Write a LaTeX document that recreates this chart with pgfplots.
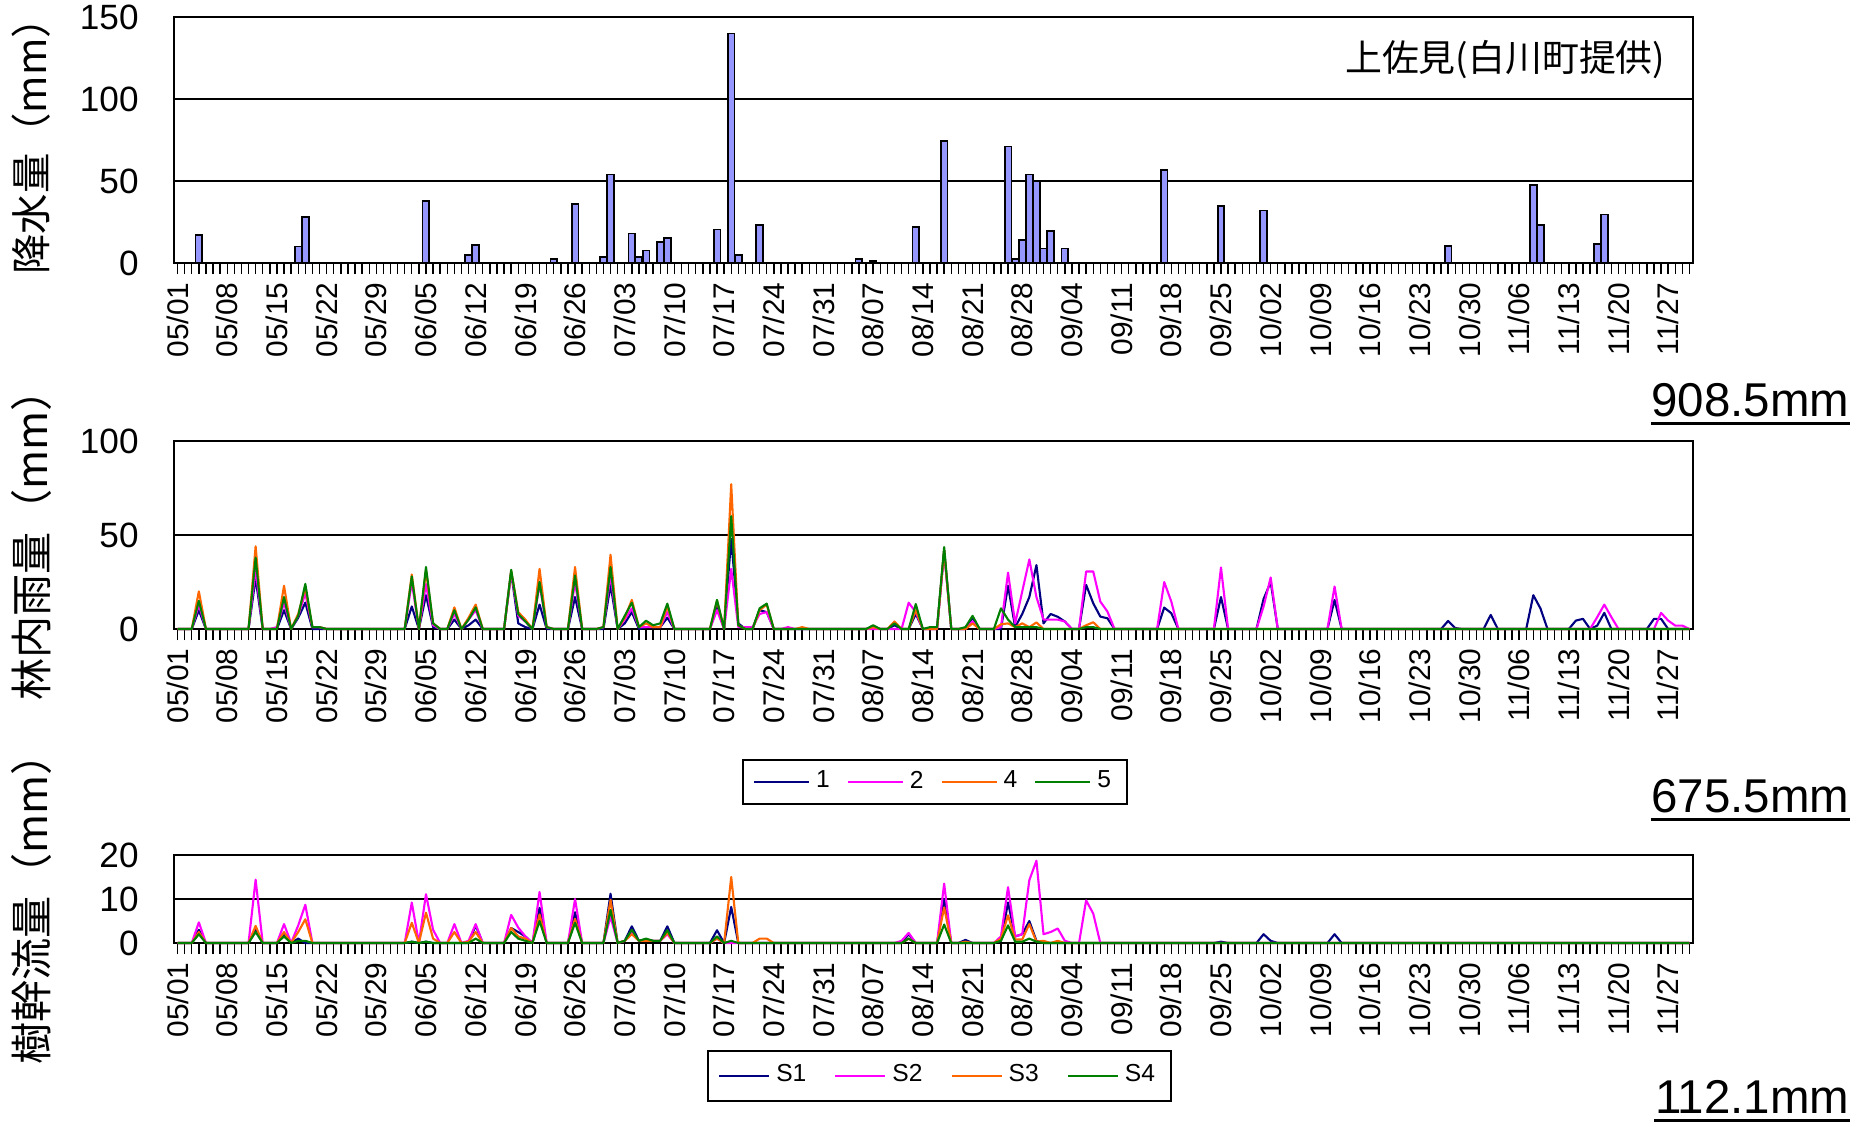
\documentclass[border=0pt]{standalone}
\usepackage{fontspec}
\setmainfont{Liberation Sans}
\newfontfamily\jp{Noto Sans CJK JP}
\usepackage{pgfplots}
\pgfplotsset{compat=1.18}
\usepackage{pgfplotstable}

\definecolor{barblue}{RGB}{150,150,255}
\definecolor{c1}{RGB}{0,0,128}
\definecolor{c2}{RGB}{255,0,255}
\definecolor{c3}{RGB}{255,102,0}
\definecolor{c4}{RGB}{0,128,0}

\pgfplotstableread{
d v
3 17
17 10
18 28
35 38
41 5
42 11
53 2.5
56 36
60 3.7
61 54
64 18
65 3.7
66 7.6
68 13
69 15.4
76 20.5
78 140
79 5
82 23
96 2.5
98 1.4
104 21.8
108 74.5
117 71
118 2.5
119 14.2
120 54
121 50
122 8.8
123 19.3
125 8.8
139 56.6
147 34.6
153 32
179 10.3
191 47.5
192 23
200 11.5
201 29.6
}\rain

\pgfplotstableread{
d s1 s2 s4 s5
0 0 0 0 0
2 0 0 0 0
3 10 13 20 15
4 0 0 0 0
10 0 0 0 0
11 27 32 44 38
12 0 0 0 0
13 0 0 0 0
14 0 1 0 0
15 10 14 23 17
16 0 0 0 0
17 6 7 8 7
18 14 19 22 24
19 0 1 1 1
20 0 1 1 1
21 0 0 0 0
32 0 0 0 0
33 12 25 29 28
34 0 0 0 0
35 18 24 31 33
36 1 2 3 3
37 0 0 0 0
38 0 0 0 0
39 5 8 11.5 10
40 0 0 0 0
41 2 5 6 5
42 5 10 13 11.5
43 0 0 0 0
46 0 0 0 0
47 30 30 31 31.5
48 3 7 9 8
49 1 4 5 4
50 0 0 0 0
51 13 24 32 25
52 0 1 1 1
53 0 0 0 0
55 0 0 0 0
56 17 25 33 28.5
57 0 0 0 0
59 0 0 0 0
60 0 1 1 1
61 23.5 29 39.5 33
62 0 0 0 0
63 3 5 6 7
64 9 11 15.5 14
65 0 1 1 1
66 1 1 3 4.4
67 1 1 1 2
68 1 1 1 3
69 6 9 12 13.5
70 0 0 0 0
75 0 0 0 0
76 12 10 15 15.5
77 0 0 0 0
78 48 32 77 60
79 3 1 2 2
80 0 1 0 0
81 0 1 0 0
82 10 8 10 11
83 9 9 13 13.5
84 0 0 0 0
85 0 0 0 0
86 0 1 0 0
87 0 0 0 0
88 0 0 1 0
89 0 0 0 0
97 0 0 0 0
98 1 0 1 2
99 0 0 0 0
100 0 0 0 0
101 2 0 4 3
102 0 0 0 0
103 0 14 0 0
104 8 9 10 13.3
105 0 0 0 0
106 0 0 0 1
107 0 0 0 1
108 42 41 42 43.6
109 0 0 0 0
110 0 0 0 0
111 0 0 0 1
112 6 4 3 7
113 0 0 0 0
115 0 0 0 0
116 0 1 2.5 11
117 23 30 3 5
118 1 3 1 1
119 8 20 3 1
120 17 37 1 1
121 34 17 3.5 1
122 3 5 0 0
123 8 5 0 0
124 6.5 5 0 0
125 4 4 0 0
126 0 0 0 0
127 0 0 0 0
128 23.5 30.6 2 1
129 13.7 30.6 3.6 1
130 6.6 14.6 0 0
131 5.7 9.3 0 0
132 0 0 0 0
138 0 0 0 0
139 11.4 25 0 0
140 8.4 14.6 0 0
141 0 0 0 0
146 0 0 0 0
147 17 32.7 0 0
148 0 0 0 0
152 0 0 0 0
153 16 12 0 0
154 25 27.4 0 0
155 0 0 0 0
162 0 0 0 0
163 15.5 22.6 0 0
164 0 0 0 0
178 0 0 0 0
179 4.3 0 0 0
180 0.5 0 0 0
181 0 0 0 0
184 0 0 0 0
185 7.5 0 0 0
186 0 0 0 0
190 0 0 0 0
191 18 0 0 0
192 11 0 0 0
193 0 0 0 0
196 0 0 0 0
197 4.5 0 0 0
198 5.4 0 0 0
199 0 0 0 0
200 1.8 6.3 0 0
201 8.6 13 0 0
202 0 6.3 0 0
203 0 0 0 0
207 0 0 0 0
208 5.4 0 0 0
209 5.4 8.6 0 0
210 0 4.5 0 0
211 0 1.8 0 0
212 0 1.8 0 0
213 0 0 0 0
}\thru

\pgfplotstableread{
d s1 s2 s3 s4
0 0 0 0 0
2 0 0 0 0
3 3 4.7 2.5 2
4 0 0 0 0
10 0 0 0 0
11 3 14.4 3.9 2.5
12 0 0 0 0
14 0 0 0 0
15 2 4.3 2.5 1.5
16 0 0 0 0
17 1 4 2.5 0.5
18 0 8.7 5.4 0.5
19 0 0 0 0
32 0 0 0 0
33 0.3 9.2 4.6 0.3
34 0 0 0 0
35 0.3 11.1 6.9 0.3
36 0 3 1 0
37 0 0 0 0
38 0 0 0 0
39 0 4.3 2.5 0
40 0 0 0 0
41 0 0.5 0.3 0
42 4 4.3 2.5 1
43 0 0 0 0
46 0 0 0 0
47 3.4 6.4 3.4 2.5
48 2.5 3.5 1.5 1
49 1.5 1.5 1 0.5
50 0 0 0 0
51 8 11.6 6.5 5
52 0 0 0 0
55 0 0 0 0
56 7 10 5.5 4.6
57 0 0 0 0
60 0 0 0 0
61 11.2 6 9.8 7.5
62 0 0 0 0
63 0.5 0.5 0.5 0.5
64 3.8 2.5 2 3
65 0.5 0.5 0.5 0.5
66 0.8 0.5 0.5 1
67 0.5 0.5 0.5 0.5
68 0.5 0.5 0.5 0.5
69 3.8 2 2.3 2.9
70 0 0 0 0
75 0 0 0 0
76 2.9 1 1 1.5
77 0 0 0 0
78 8.2 0 15 0.5
79 0 0 0 0
81 0 0 0 0
82 0 0 1 0
83 0 0 1 0
84 0 0 0 0
101 0 0 0 0
102 0 0.5 0 0
103 2 2.3 1 1
104 0 0 0 0
107 0 0 0 0
108 10 13.5 8.1 4.2
109 0 0 0 0
110 0 0 0 0
111 0.7 0 0.3 0
112 0 0 0 0
115 0 0 0 0
116 0.5 1.5 1 0.5
117 9.2 12.7 6.3 4
118 1.5 1.5 0.8 0.3
119 2 2 0.8 0.3
120 5 14.3 4.3 1
121 0.5 18.7 0.3 0.3
122 0 2 0.5 0
123 0 2.5 0 0
124 0 3.3 0.5 0
125 0 0.5 0 0
126 0 0 0 0
127 0 0 0 0
128 0 9.7 0 0
129 0 6.7 0 0
130 0 0 0 0
146 0 0 0 0
147 0.3 0 0 0
148 0 0 0 0
152 0 0 0 0
153 2 0 0 0
154 0.5 0 0 0
155 0 0 0 0
162 0 0 0 0
163 2 0 0 0
164 0 0 0 0
213 0 0 0 0
}\stem

\pgfplotsset{
  panel/.style={
    scale only axis, width=151.9mm,
    anchor=south west,
    xmin=-0.5, xmax=213.5,
    ymin=0,
    xtick={0,7,...,210},
    xticklabels={05/01,05/08,05/15,05/22,05/29,06/05,06/12,06/19,06/26,07/03,07/10,07/17,07/24,07/31,08/07,08/14,08/21,08/28,09/04,09/11,09/18,09/25,10/02,10/09,10/16,10/23,10/30,11/06,11/13,11/20,11/27},
    minor xtick={0,...,213},
    tick align=outside,
    tick pos=left,
    major tick length=1.1mm, minor tick length=1.1mm,
    xtick style={black, line width=0.4pt},
    minor tick style={black, line width=0.4pt},
    ytick style={draw=none},
    xticklabel style={rotate=90, anchor=east, font=\fontsize{8.5}{8.5}\selectfont, inner sep=0.8mm},
    yticklabel style={font=\fontsize{10}{10}\selectfont, xshift=-1.2mm},
    ymajorgrids, grid style={black, line width=0.45pt},
    axis line style={black, line width=0.6pt},
    ylabel style={at={(axis description cs:-0.094,0.5)}, anchor=center, font=\jp\fontsize{12}{12}\selectfont},
    clip=false,
    legend columns=4,
    legend image code/.code={\draw[#1, line width=0.6pt] (0mm,0mm) -- (5.5mm,0mm);},
  },
  ser/.style={line width=0.6pt, line join=round, no marks},
}

\begin{document}
\begin{tikzpicture}[x=1mm,y=1mm]
\useasboundingbox (0,0) rectangle (186,-112.6);

% top panel
\begin{axis}[panel, at={(17.4mm,-26.3mm)}, height=24.6mm,
  ymax=150, ytick={0,50,100,150}, yticklabels={0,50,100,150},
  ylabel={降水量（mm）},
  ylabel style={at={(axis description cs:-0.094,0.515)}, font=\jp\fontsize{11.5}{11.5}\selectfont}]
\addplot[ybar, bar width=0.95, fill=barblue, draw=black, line width=0.5pt] table[x=d, y=v] {\rain};
\end{axis}

% middle panel
\begin{axis}[panel, at={(17.4mm,-62.9mm)}, height=18.8mm,
  ymax=100, ytick={0,50,100}, yticklabels={0,50,100},
  ylabel={林内雨量（mm）},
  legend style={at={(0.501,-0.814)}, anchor=center, draw=black, line width=0.6pt,
    font=\fontsize{7}{8}\selectfont, inner xsep=1.0mm, inner ysep=0.5mm,
    nodes={inner sep=0.6mm},
    /tikz/every even column/.append style={column sep=1.1mm}}]
\addplot[ser, c1] table[x=d, y=s1] {\thru};
\addlegendentry{1}
\addplot[ser, c2] table[x=d, y=s2] {\thru};
\addlegendentry{2}
\addplot[ser, c3] table[x=d, y=s4] {\thru};
\addlegendentry{4}
\addplot[ser, c4] table[x=d, y=s5] {\thru};
\addlegendentry{5}
\end{axis}

% bottom panel
\begin{axis}[panel, at={(17.4mm,-94.3mm)}, height=8.8mm,
  ymax=20, ytick={0,10,20}, yticklabels={0,10,20},
  ylabel={樹幹流量（mm）},
  legend image code/.code={\draw[#1, line width=0.6pt] (0mm,0mm) -- (5mm,0mm);},
  legend style={at={(0.504,-1.51)}, anchor=center, draw=black, line width=0.6pt,
    font=\fontsize{7}{8}\selectfont, inner xsep=1.0mm, inner ysep=0.8mm,
    nodes={inner sep=0.6mm},
    /tikz/every even column/.append style={column sep=2.2mm}}]
\addplot[ser, c1] table[x=d, y=s1] {\stem};
\addlegendentry{S1}
\addplot[ser, c2] table[x=d, y=s2] {\stem};
\addlegendentry{S2}
\addplot[ser, c3] table[x=d, y=s3] {\stem};
\addlegendentry{S3}
\addplot[ser, c4] table[x=d, y=s4] {\stem};
\addlegendentry{S4}
\end{axis}

\node[anchor=east, inner sep=0pt, font=\jp\fontsize{10.5}{10.5}\selectfont] at (166.6,-6.0) {上佐見(白川町提供)};

\node[anchor=base east, inner sep=0pt, font=\fontsize{13.5}{13.5}\selectfont] (t1) at (185,-41.6) {908.5mm};
\draw[line width=0.3mm] ([yshift=-0.7mm]t1.base west) -- ([yshift=-0.7mm]t1.base east);
\node[anchor=base east, inner sep=0pt, font=\fontsize{13.5}{13.5}\selectfont] (t2) at (185,-81.2) {675.5mm};
\draw[line width=0.3mm] ([yshift=-0.7mm]t2.base west) -- ([yshift=-0.7mm]t2.base east);
\node[anchor=base east, inner sep=0pt, font=\fontsize{13.5}{13.5}\selectfont] (t3) at (185,-111.3) {112.1mm};
\draw[line width=0.3mm] ([yshift=-0.7mm]t3.base west) -- ([yshift=-0.7mm]t3.base east);
\end{tikzpicture}
\end{document}
